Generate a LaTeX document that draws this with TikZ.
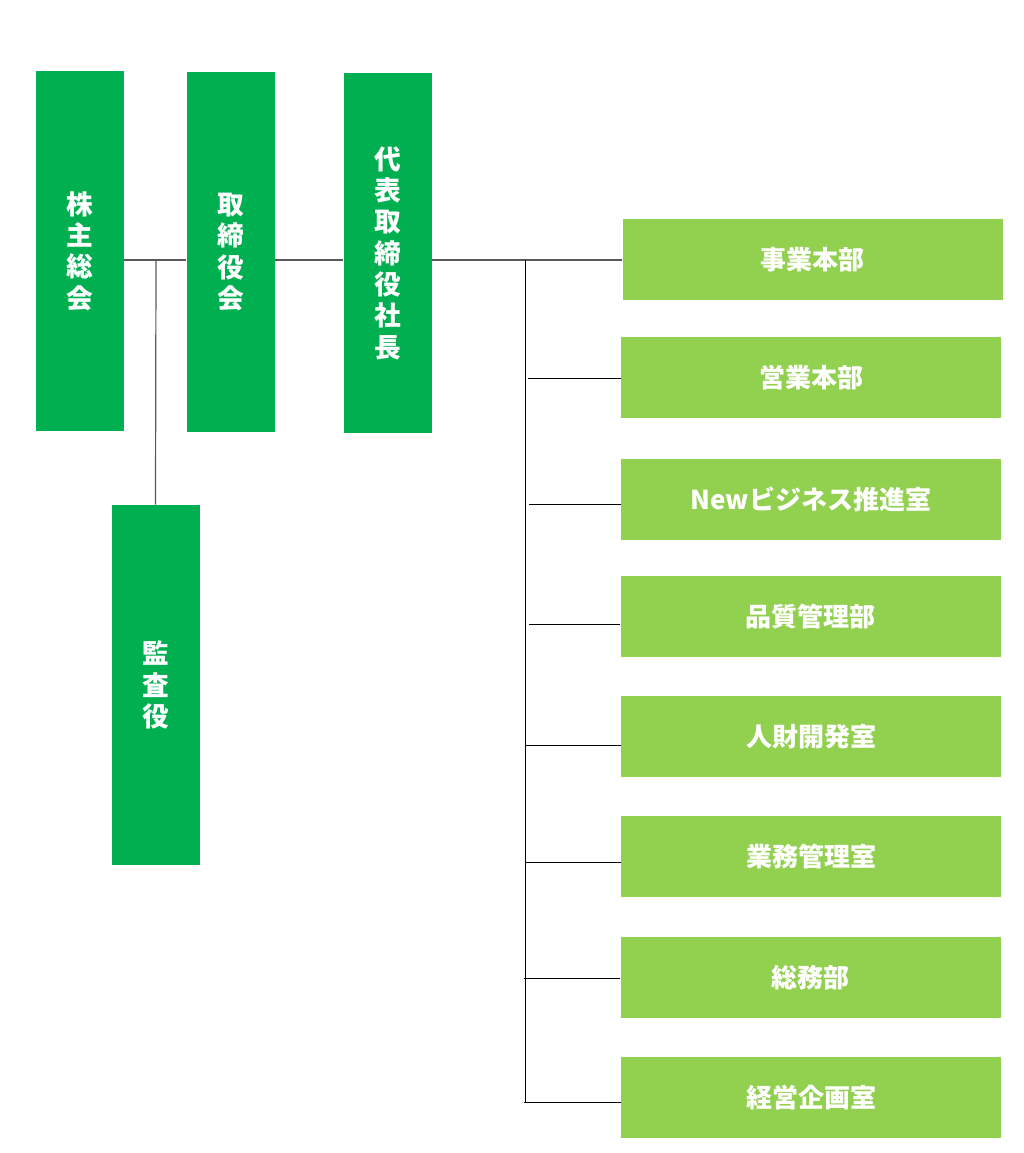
\documentclass[tikz,border=0pt]{standalone}
\usepackage{fontspec}
\usepackage{xcolor}
\newfontfamily\jpfont{Noto Sans CJK JP}
\definecolor{darkgreen}{HTML}{00B050}
\definecolor{lightgreen}{HTML}{92D050}
\tikzset{
  officebox/.style={fill=darkgreen, text=white, inner sep=0pt, minimum width=66pt, minimum height=270pt, align=center,
    font={\jpfont\bfseries\fontsize{20}{23.5}\selectfont}},
  deptbox/.style={fill=lightgreen, text=white, inner sep=0pt, minimum width=285pt, minimum height=60.75pt,
    font={\jpfont\bfseries\fontsize{19.5}{23.5}\selectfont}},
  trunk/.style={draw=black!65, line width=0.9pt},
  branch/.style={draw=black, line width=0.75pt}
}
\begin{document}
\begin{tikzpicture}[x=0.75pt,y=0.75pt,yscale=-1,xscale=1]
\useasboundingbox (0,0) rectangle (1024,1153);

% Text Node
\node[officebox] (kabu) at (79.5,251) {株\\主\\総\\会};
% Text Node
\node[officebox] (tori) at (230.5,252) {取\\締\\役\\会};
% Text Node
\node[officebox] (dai) at (387.5,253) {代\\表\\取\\締\\役\\社\\長};
% Text Node
\node[officebox] (kansa) at (155.5,685) {監\\査\\役};

% Text Node
\node[deptbox] (jigyo) at (812.5,259.5) {事業本部};
\node[deptbox] (eigyo) at (811,377.5) {営業本部};
\node[deptbox] (newbiz) at (811,499.5) {Newビジネス推進室};
\node[deptbox] (hinshitsu) at (810.5,616.5) {品質管理部};
\node[deptbox] (jinzai) at (811,736.5) {人財開発室};
\node[deptbox] (gyomu) at (811,856.5) {業務管理室};
\node[deptbox] (somu) at (810.5,977.5) {総務部};
\node[deptbox] (keiei) at (811,1097.5) {経営企画室};

\coordinate (hub) at (156,260);
\coordinate (spine) at (525.5,260);
\coordinate (spineend) at (525.5,1102);

%Straight Lines
\draw[trunk] (kabu.east |- hub) -- (tori.west |- hub);
\draw[trunk] (hub) -- (kansa.north);
\draw[trunk] (tori.east |- hub) -- (dai.west |- hub);
\draw[trunk] (dai.east |- hub) -- (jigyo.west |- hub);
\draw[branch] (spine) -- (spineend);

%Straight Lines
\foreach \dept/\ypos/\xpos in {eigyo/378/528, newbiz/504/529, hinshitsu/624/529, jinzai/745/525,
                                 gyomu/862/525, somu/978/524, keiei/1102/524} {
  \coordinate (b-\dept) at (\xpos,\ypos);
  \draw[branch] (b-\dept) -- (b-\dept -| \dept.west);
}

\end{tikzpicture}
\end{document}
